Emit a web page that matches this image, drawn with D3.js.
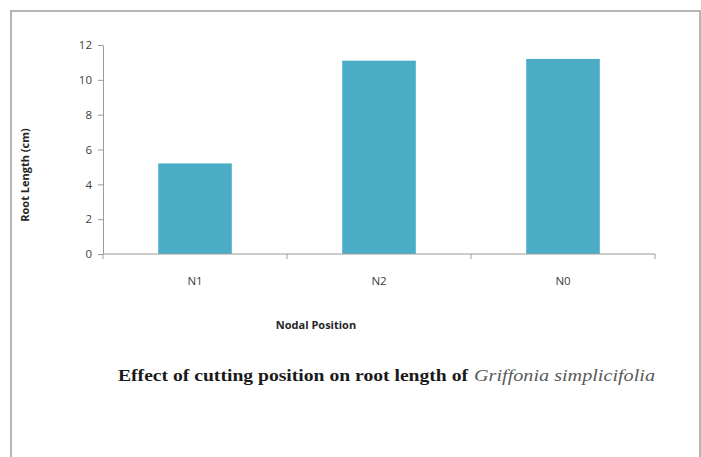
<!DOCTYPE html>
<html>
<head>
<meta charset="utf-8">
<script src="https://cdn.jsdelivr.net/npm/d3@7/dist/d3.min.js"></script>
<style>
  html, body { margin: 0; padding: 0; background: #fff; }
  svg { display: block; }
</style>
</head>
<body>
<svg id="chart" width="701" height="457"></svg>
<script>
// Root length by nodal position of the cutting
const categories = ["N1", "N2", "N0"];
const rootLength = [5.2, 11.1, 11.2];
const yTicks = [0, 2, 4, 6, 8, 10, 12];

const svg = d3.select("#chart");
const W = 701, H = 457;
const plot = { left: 103, right: 655, top: 45, bottom: 254 };

// frame around the chart area
svg.append("rect")
  .attr("x", 11).attr("y", 11)
  .attr("width", 689).attr("height", H)
  .attr("fill", "#fff")
  .attr("stroke", "#a3a3a3")
  .attr("stroke-width", 1.6);

const x = d3.scaleBand()
  .domain(categories)
  .range([plot.left, plot.right])
  .paddingInner(0.6)
  .paddingOuter(0.3);

const y = d3.scaleLinear()
  .domain([0, 12])
  .range([plot.bottom, plot.top]);

// bars
svg.append("g")
  .selectAll("rect")
  .data(categories)
  .join("rect")
  .attr("x", d => x(d))
  .attr("y", (d, i) => y(rootLength[i]))
  .attr("width", x.bandwidth())
  .attr("height", (d, i) => y(0) - y(rootLength[i]))
  .attr("fill", "#4bacc6");

// y axis
const yAxis = svg.append("g")
  .attr("transform", `translate(${plot.left},0)`)
  .call(d3.axisLeft(y).tickValues(yTicks).tickSize(5).tickPadding(6).tickSizeOuter(0));
yAxis.select(".domain").attr("stroke", "#9a9a9a");
yAxis.selectAll(".tick line").attr("stroke", "#9a9a9a");
yAxis.selectAll(".tick text")
  .attr("font-family", "'Open Sans', 'Liberation Sans', sans-serif")
  .attr("font-size", 11.5)
  .attr("fill", "#404040");

// x axis with ticks at the category boundaries
const xAxis = svg.append("g")
  .attr("transform", `translate(0,${plot.bottom})`);
xAxis.append("line")
  .attr("x1", plot.left).attr("x2", plot.right)
  .attr("stroke", "#9a9a9a");
const step = x.step();
const boundaries = d3.range(categories.length + 1).map(i => plot.left + i * step);
xAxis.selectAll("line.bnd")
  .data(boundaries)
  .join("line")
  .attr("class", "bnd")
  .attr("x1", d => d).attr("x2", d => d)
  .attr("y1", 0).attr("y2", 5)
  .attr("stroke", "#9a9a9a");
xAxis.selectAll("text")
  .data(categories)
  .join("text")
  .attr("x", d => x(d) + x.bandwidth() / 2)
  .attr("y", 31)
  .attr("text-anchor", "middle")
  .attr("font-family", "'Open Sans', 'Liberation Sans', sans-serif")
  .attr("font-size", 11.5)
  .attr("fill", "#404040")
  .text(d => d);

// axis titles
svg.append("text")
  .attr("transform", "translate(29,175) rotate(-90)")
  .attr("text-anchor", "middle")
  .attr("font-family", "'Open Sans', 'Liberation Sans', sans-serif")
  .attr("font-size", 11)
  .attr("font-weight", "bold")
  .attr("fill", "#262626")
  .text("Root Length (cm)");

svg.append("text")
  .attr("x", 316).attr("y", 329)
  .attr("text-anchor", "middle")
  .attr("font-family", "'Open Sans', 'Liberation Sans', sans-serif")
  .attr("font-size", 11)
  .attr("font-weight", "bold")
  .attr("fill", "#262626")
  .text("Nodal Position");

// caption: bold lead-in followed by the italic species name
svg.append("text")
  .attr("x", 118).attr("y", 381)
  .attr("font-family", "'Liberation Serif', 'DejaVu Serif', serif")
  .attr("font-size", 16)
  .attr("font-weight", "bold")
  .attr("fill", "#1a1a1a")
  .attr("textLength", 350)
  .attr("lengthAdjust", "spacingAndGlyphs")
  .text("Effect of cutting position on root length of");
svg.append("text")
  .attr("x", 474).attr("y", 381)
  .attr("font-family", "'Liberation Serif', 'DejaVu Serif', serif")
  .attr("font-size", 16)
  .attr("font-style", "italic")
  .attr("fill", "#5a5a5a")
  .attr("textLength", 181)
  .attr("lengthAdjust", "spacingAndGlyphs")
  .text("Griffonia simplicifolia");
</script>
</body>
</html>
